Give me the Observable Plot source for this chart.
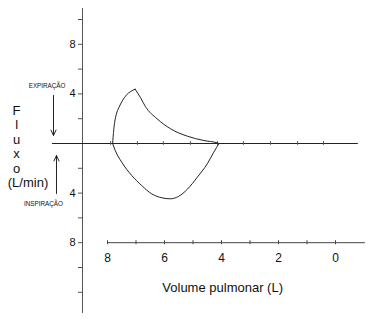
<!DOCTYPE html>
<html>
<head>
<meta charset="utf-8">
<script src="https://cdn.jsdelivr.net/npm/d3@7"></script>
<script src="https://cdn.jsdelivr.net/npm/@observablehq/plot@0.6"></script>
<style>
  html, body { margin: 0; padding: 0; background: #fff; }
</style>
</head>
<body>
<div id="chart"></div>
<script>
// Expiration (upper loop), rising limb
const riseVol  = [7.82, 7.79, 7.75, 7.69, 7.60, 7.48, 7.34, 7.19, 7.03];
const riseFlow = [0, 0.89, 1.69, 2.36, 2.90, 3.44, 3.90, 4.19, 4.38];
// Expiration, decaying limb
const fallVol  = [7.03, 6.84, 6.67, 6.26, 5.79, 5.20, 4.62, 4.15, 4.09];
const fallFlow = [4.38, 3.69, 2.98, 1.99, 1.19, 0.59, 0.24, 0.05, 0];
// Inspiration (lower loop)
const inspVol  = [7.82, 7.73, 7.50, 7.15, 6.80, 6.45, 6.09, 5.80, 5.51, 5.19, 4.85, 4.50, 4.27, 4.09];
const inspFlow = [0, -0.56, -1.51, -2.58, -3.39, -4.06, -4.38, -4.46, -4.27, -3.67, -2.72, -1.64, -0.70, 0];

// Axis ticks and labels
const yTicks = [10, 8, 6, 4, 2, -2, -4, -6, -8, -10, -12];
const yLabels = [8, 4, -4, -8];
const xTicks = [8, 7, 6, 5, 4, 3, 2, 1, 0];
const xLabels = [8, 6, 4, 2, 0];
const zeroLineTicks = [7.89, 6.95, 6.04, 5.09, 4.14, 3.23, 2.28, 1.33, 0.42];

// Texts
const yTitleLetters = ["F", "l", "u", "x", "o"];
const yTitleUnit = "(L/min)";
const xTitle = "Volume pulmonar (L)";
const expLabel = "EXPIRAÇÃO";
const inspLabel = "INSPIRAÇÃO";

const line = (vol, flow, name) => vol.map((v, i) => ({vol: v, flow: flow[i], part: name}));
const loop = [
  ...line(riseVol, riseFlow, "rise"),
  ...line(fallVol, fallFlow, "fall"),
  ...line(inspVol, inspFlow, "insp")
];

const letterY = [2.66, 1.49, 0.32, -0.81, -2.02];

const chart = Plot.plot({
  width: 368,
  height: 319,
  marginLeft: 82,
  marginRight: 10,
  marginTop: 8,
  marginBottom: 7,
  x: {domain: [8, 0], range: [107, 335], axis: null},
  y: {domain: [-4, 4], range: [192.6, 93.4], axis: null},
  style: {fontFamily: "'Liberation Sans', Arial, sans-serif", fontSize: "11px", color: "#111", background: "#fff"},
  marks: [
    Plot.frame({anchor: "left", stroke: "#555"}),
    Plot.axisY(yTicks, {
      anchor: "left", tickSize: 4, tickPadding: 3, stroke: "#555", label: null,
      tickFormat: d => yLabels.includes(d) ? String(Math.abs(d)) : "",
      fontSize: 11
    }),
    // zero line
    Plot.ruleY([0], {x1: 9.93, x2: -0.8, stroke: "#222"}),
    Plot.ruleX(zeroLineTicks, {x: d => d, y1: -0.15, y2: 0.15, stroke: "#555"}),
    // bottom volume axis
    Plot.ruleY([-8], {x1: 8, x2: -1.05, stroke: "#444"}),
    Plot.ruleX(xTicks, {x: d => d, y1: -7.84, y2: -8.16, stroke: "#444"}),
    Plot.text(xLabels, {x: d => d, y: -8, dy: 15, text: d => String(d), fontSize: 12}),
    Plot.text([xTitle], {x: 3.96, y: -11.61, text: d => d, fontSize: 13}),
    // loop
    Plot.line(loop, {x: "vol", y: "flow", z: "part", curve: "monotone-x", stroke: "#222", strokeWidth: 1}),
    // y title
    Plot.text(yTitleLetters, {x: 11.19, y: (d, i) => letterY[i], text: d => d, fontSize: 13}),
    Plot.text([yTitleUnit], {x: 10.79, y: -3.15, text: d => d, fontSize: 13}),
    // annotations
    Plot.text([expLabel], {x: 10.12, y: 4.6, text: d => d, fontSize: 6.3}),
    Plot.text([inspLabel], {x: 10.25, y: -4.84, text: d => d, fontSize: 6.3}),
    Plot.arrow([0], {x1: 9.895, y1: 3.87, x2: 9.895, y2: 0.645, stroke: "#222", strokeWidth: 1, headLength: 9, headAngle: 50}),
    Plot.arrow([0], {x1: 9.79, y1: -4.03, x2: 9.79, y2: -0.97, stroke: "#222", strokeWidth: 1, headLength: 9, headAngle: 50})
  ]
});
document.getElementById("chart").appendChild(chart);
</script>
</body>
</html>
